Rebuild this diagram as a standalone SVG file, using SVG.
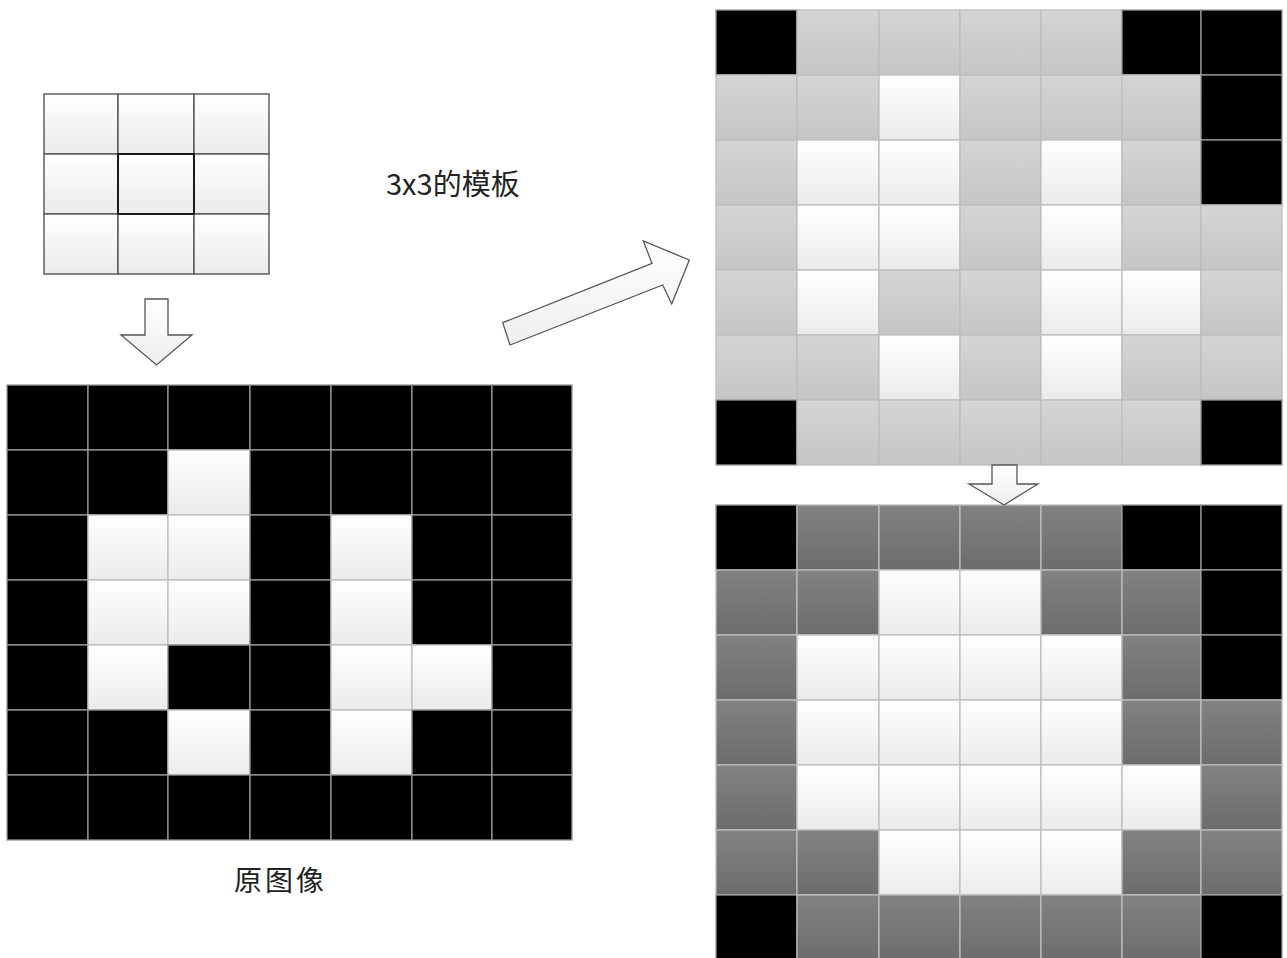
<svg xmlns="http://www.w3.org/2000/svg" width="1287" height="958" viewBox="0 0 1287 958">
<defs>
<linearGradient id="gw" x1="0" y1="0" x2="0" y2="1"><stop offset="0" stop-color="#ffffff"/><stop offset="1" stop-color="#ebebeb"/></linearGradient>
<linearGradient id="gg" x1="0" y1="0" x2="0" y2="1"><stop offset="0" stop-color="#d5d5d5"/><stop offset="1" stop-color="#c5c5c5"/></linearGradient>
<linearGradient id="gd" x1="0" y1="0" x2="0" y2="1"><stop offset="0" stop-color="#828282"/><stop offset="1" stop-color="#6c6c6c"/></linearGradient>
<linearGradient id="ga" x1="0" y1="0" x2="0" y2="1"><stop offset="0" stop-color="#ffffff"/><stop offset="1" stop-color="#eeeeee"/></linearGradient>
</defs>
<style>
rect{stroke-width:1.3}
.b{fill:#000;stroke:#999}
.w{fill:url(#gw);stroke:#bdbdbd}
.g{fill:url(#gg);stroke:#bdbdbd}
.d{fill:url(#gd);stroke:#bdbdbd}
.t{fill:url(#gw);stroke:#555;stroke-width:1.4}
.tc{fill:none;stroke:#1a1a1a;stroke-width:2}
.arr{fill:url(#ga);stroke:#555;stroke-width:1.3;stroke-linejoin:miter}
.lbl{font-family:"Noto Sans CJK SC","Noto Sans",sans-serif;fill:#222}
</style>
<rect width="1287" height="958" fill="#fff" style="stroke:none"/>

<g id="template">
<rect class="t" x="44" y="94" width="74" height="60"/><rect class="t" x="118" y="94" width="76" height="60"/><rect class="t" x="194" y="94" width="75" height="60"/>
<rect class="t" x="44" y="154" width="74" height="60"/><rect class="t" x="118" y="154" width="76" height="60"/><rect class="t" x="194" y="154" width="75" height="60"/>
<rect class="t" x="44" y="214" width="74" height="60"/><rect class="t" x="118" y="214" width="76" height="60"/><rect class="t" x="194" y="214" width="75" height="60"/>
<rect class="tc" x="118" y="154" width="76" height="60"/>
</g>

<g id="label-template"><text class="lbl" x="386" y="195" font-size="29">3x3的模板</text></g>

<g id="original">
<rect class="b" x="7" y="385" width="81" height="65"/><rect class="b" x="88" y="385" width="80" height="65"/><rect class="b" x="168" y="385" width="82" height="65"/><rect class="b" x="250" y="385" width="81" height="65"/><rect class="b" x="331" y="385" width="81" height="65"/><rect class="b" x="412" y="385" width="80" height="65"/><rect class="b" x="492" y="385" width="80" height="65"/>
<rect class="b" x="7" y="450" width="81" height="65"/><rect class="b" x="88" y="450" width="80" height="65"/><rect class="w" x="168" y="450" width="82" height="65"/><rect class="b" x="250" y="450" width="81" height="65"/><rect class="b" x="331" y="450" width="81" height="65"/><rect class="b" x="412" y="450" width="80" height="65"/><rect class="b" x="492" y="450" width="80" height="65"/>
<rect class="b" x="7" y="515" width="81" height="65"/><rect class="w" x="88" y="515" width="80" height="65"/><rect class="w" x="168" y="515" width="82" height="65"/><rect class="b" x="250" y="515" width="81" height="65"/><rect class="w" x="331" y="515" width="81" height="65"/><rect class="b" x="412" y="515" width="80" height="65"/><rect class="b" x="492" y="515" width="80" height="65"/>
<rect class="b" x="7" y="580" width="81" height="65"/><rect class="w" x="88" y="580" width="80" height="65"/><rect class="w" x="168" y="580" width="82" height="65"/><rect class="b" x="250" y="580" width="81" height="65"/><rect class="w" x="331" y="580" width="81" height="65"/><rect class="b" x="412" y="580" width="80" height="65"/><rect class="b" x="492" y="580" width="80" height="65"/>
<rect class="b" x="7" y="645" width="81" height="65"/><rect class="w" x="88" y="645" width="80" height="65"/><rect class="b" x="168" y="645" width="82" height="65"/><rect class="b" x="250" y="645" width="81" height="65"/><rect class="w" x="331" y="645" width="81" height="65"/><rect class="w" x="412" y="645" width="80" height="65"/><rect class="b" x="492" y="645" width="80" height="65"/>
<rect class="b" x="7" y="710" width="81" height="65"/><rect class="b" x="88" y="710" width="80" height="65"/><rect class="w" x="168" y="710" width="82" height="65"/><rect class="b" x="250" y="710" width="81" height="65"/><rect class="w" x="331" y="710" width="81" height="65"/><rect class="b" x="412" y="710" width="80" height="65"/><rect class="b" x="492" y="710" width="80" height="65"/>
<rect class="b" x="7" y="775" width="81" height="65"/><rect class="b" x="88" y="775" width="80" height="65"/><rect class="b" x="168" y="775" width="82" height="65"/><rect class="b" x="250" y="775" width="81" height="65"/><rect class="b" x="331" y="775" width="81" height="65"/><rect class="b" x="412" y="775" width="80" height="65"/><rect class="b" x="492" y="775" width="80" height="65"/>
</g>

<g id="label-original"><text class="lbl" x="234" y="891" font-size="28" letter-spacing="3" fill="#333">原图像</text></g>

<g id="filtered">
<rect class="b" x="716" y="10" width="81" height="65"/><rect class="g" x="797" y="10" width="82" height="65"/><rect class="g" x="879" y="10" width="81" height="65"/><rect class="g" x="960" y="10" width="81" height="65"/><rect class="g" x="1041" y="10" width="81" height="65"/><rect class="b" x="1122" y="10" width="79" height="65"/><rect class="b" x="1201" y="10" width="81" height="65"/>
<rect class="g" x="716" y="75" width="81" height="65"/><rect class="g" x="797" y="75" width="82" height="65"/><rect class="w" x="879" y="75" width="81" height="65"/><rect class="g" x="960" y="75" width="81" height="65"/><rect class="g" x="1041" y="75" width="81" height="65"/><rect class="g" x="1122" y="75" width="79" height="65"/><rect class="b" x="1201" y="75" width="81" height="65"/>
<rect class="g" x="716" y="140" width="81" height="65"/><rect class="w" x="797" y="140" width="82" height="65"/><rect class="w" x="879" y="140" width="81" height="65"/><rect class="g" x="960" y="140" width="81" height="65"/><rect class="w" x="1041" y="140" width="81" height="65"/><rect class="g" x="1122" y="140" width="79" height="65"/><rect class="b" x="1201" y="140" width="81" height="65"/>
<rect class="g" x="716" y="205" width="81" height="65"/><rect class="w" x="797" y="205" width="82" height="65"/><rect class="w" x="879" y="205" width="81" height="65"/><rect class="g" x="960" y="205" width="81" height="65"/><rect class="w" x="1041" y="205" width="81" height="65"/><rect class="g" x="1122" y="205" width="79" height="65"/><rect class="g" x="1201" y="205" width="81" height="65"/>
<rect class="g" x="716" y="270" width="81" height="65"/><rect class="w" x="797" y="270" width="82" height="65"/><rect class="g" x="879" y="270" width="81" height="65"/><rect class="g" x="960" y="270" width="81" height="65"/><rect class="w" x="1041" y="270" width="81" height="65"/><rect class="w" x="1122" y="270" width="79" height="65"/><rect class="g" x="1201" y="270" width="81" height="65"/>
<rect class="g" x="716" y="335" width="81" height="65"/><rect class="g" x="797" y="335" width="82" height="65"/><rect class="w" x="879" y="335" width="81" height="65"/><rect class="g" x="960" y="335" width="81" height="65"/><rect class="w" x="1041" y="335" width="81" height="65"/><rect class="g" x="1122" y="335" width="79" height="65"/><rect class="g" x="1201" y="335" width="81" height="65"/>
<rect class="b" x="716" y="400" width="81" height="65"/><rect class="g" x="797" y="400" width="82" height="65"/><rect class="g" x="879" y="400" width="81" height="65"/><rect class="g" x="960" y="400" width="81" height="65"/><rect class="g" x="1041" y="400" width="81" height="65"/><rect class="g" x="1122" y="400" width="79" height="65"/><rect class="b" x="1201" y="400" width="81" height="65"/>
</g>

<g id="thresholded">
<rect class="b" x="716" y="505" width="81" height="65"/><rect class="d" x="797" y="505" width="82" height="65"/><rect class="d" x="879" y="505" width="81" height="65"/><rect class="d" x="960" y="505" width="81" height="65"/><rect class="d" x="1041" y="505" width="81" height="65"/><rect class="b" x="1122" y="505" width="79" height="65"/><rect class="b" x="1201" y="505" width="81" height="65"/>
<rect class="d" x="716" y="570" width="81" height="65"/><rect class="d" x="797" y="570" width="82" height="65"/><rect class="w" x="879" y="570" width="81" height="65"/><rect class="w" x="960" y="570" width="81" height="65"/><rect class="d" x="1041" y="570" width="81" height="65"/><rect class="d" x="1122" y="570" width="79" height="65"/><rect class="b" x="1201" y="570" width="81" height="65"/>
<rect class="d" x="716" y="635" width="81" height="65"/><rect class="w" x="797" y="635" width="82" height="65"/><rect class="w" x="879" y="635" width="81" height="65"/><rect class="w" x="960" y="635" width="81" height="65"/><rect class="w" x="1041" y="635" width="81" height="65"/><rect class="d" x="1122" y="635" width="79" height="65"/><rect class="b" x="1201" y="635" width="81" height="65"/>
<rect class="d" x="716" y="700" width="81" height="65"/><rect class="w" x="797" y="700" width="82" height="65"/><rect class="w" x="879" y="700" width="81" height="65"/><rect class="w" x="960" y="700" width="81" height="65"/><rect class="w" x="1041" y="700" width="81" height="65"/><rect class="d" x="1122" y="700" width="79" height="65"/><rect class="d" x="1201" y="700" width="81" height="65"/>
<rect class="d" x="716" y="765" width="81" height="65"/><rect class="w" x="797" y="765" width="82" height="65"/><rect class="w" x="879" y="765" width="81" height="65"/><rect class="w" x="960" y="765" width="81" height="65"/><rect class="w" x="1041" y="765" width="81" height="65"/><rect class="w" x="1122" y="765" width="79" height="65"/><rect class="d" x="1201" y="765" width="81" height="65"/>
<rect class="d" x="716" y="830" width="81" height="65"/><rect class="d" x="797" y="830" width="82" height="65"/><rect class="w" x="879" y="830" width="81" height="65"/><rect class="w" x="960" y="830" width="81" height="65"/><rect class="w" x="1041" y="830" width="81" height="65"/><rect class="d" x="1122" y="830" width="79" height="65"/><rect class="d" x="1201" y="830" width="81" height="65"/>
<rect class="b" x="716" y="895" width="81" height="65"/><rect class="d" x="797" y="895" width="82" height="65"/><rect class="d" x="879" y="895" width="81" height="65"/><rect class="d" x="960" y="895" width="81" height="65"/><rect class="d" x="1041" y="895" width="81" height="65"/><rect class="d" x="1122" y="895" width="79" height="65"/><rect class="b" x="1201" y="895" width="81" height="65"/>
</g>

<g id="connectors">
<polygon class="arr" points="145,299 168,299 168,335 192,335 156.5,365 121,335 145,335"/>
<polygon class="arr" points="502.7,322.7 652,263.3 643.3,241 689.3,260 671.7,304 662.7,285 510,345"/>
<polygon class="arr" points="992,465 1017,465 1017,484 1038,484 1004,505 969,484 992,484"/>
</g>
</svg>
